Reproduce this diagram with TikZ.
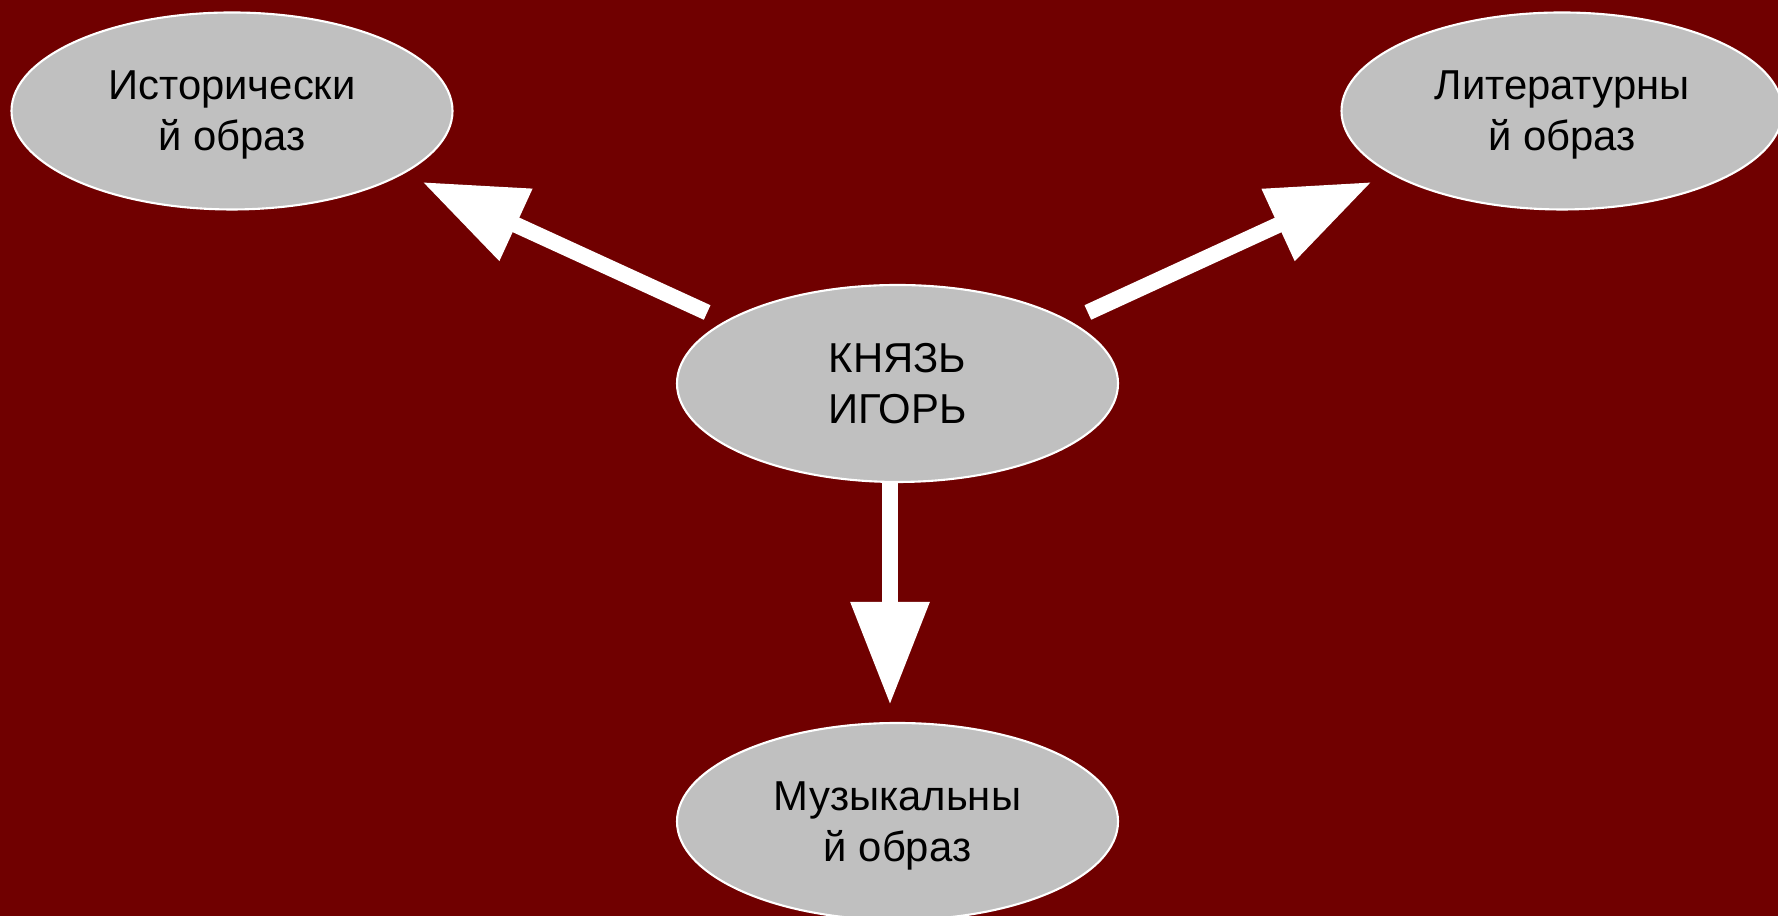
\documentclass[tikz,border=0pt]{standalone}
\usepackage{fontspec}
\setmainfont{Liberation Sans}
\usepackage{tikz}
\usetikzlibrary{shapes.geometric, positioning}
\usetikzlibrary{arrows.meta}
\usepackage{xcolor}
\definecolor{bordo}{HTML}{700000}
\definecolor{seryj}{HTML}{C0C0C0}
\tikzset{oval/.style={ellipse, draw=white, line width=0.6pt, fill=seryj, minimum width=4.41cm, minimum height=1.97cm, inner sep=0pt, align=center, text depth=0pt, font=\fontsize{11.9}{14.5}\selectfont}}
\tikzset{fatarrow/.style={white, line width=1.6mm, -{Triangle[length=10.3mm, width=7.5mm]}}}

\begin{document}
\begin{tikzpicture}
	\useasboundingbox (0,0) rectangle (17.78,9.16);
	\fill [bordo] (0,0) rectangle (17.78,9.16);
	\node [oval] (igor) at (8.975,5.325) {КНЯЗЬ\\ИГОРЬ};
	\node [oval] (hist) at (2.32,8.05) {Исторически\\й образ};
	\node [oval] (lit) at (15.62,8.05) {Литературны\\й образ};
	\node [oval] (music) at (8.975,0.945) {Музыкальны\\й образ};
	\draw [fatarrow, shorten <=2mm, shorten >=2mm] (igor.160) -- (hist.-20);
	\draw [fatarrow, shorten <=2mm, shorten >=2mm] (igor.20) -- (lit.200);
	\draw [fatarrow, shorten >=1.7mm] ([xshift=-0.75mm]igor.south) -- ([xshift=-0.75mm]music.north);
\end{tikzpicture}
\end{document}
